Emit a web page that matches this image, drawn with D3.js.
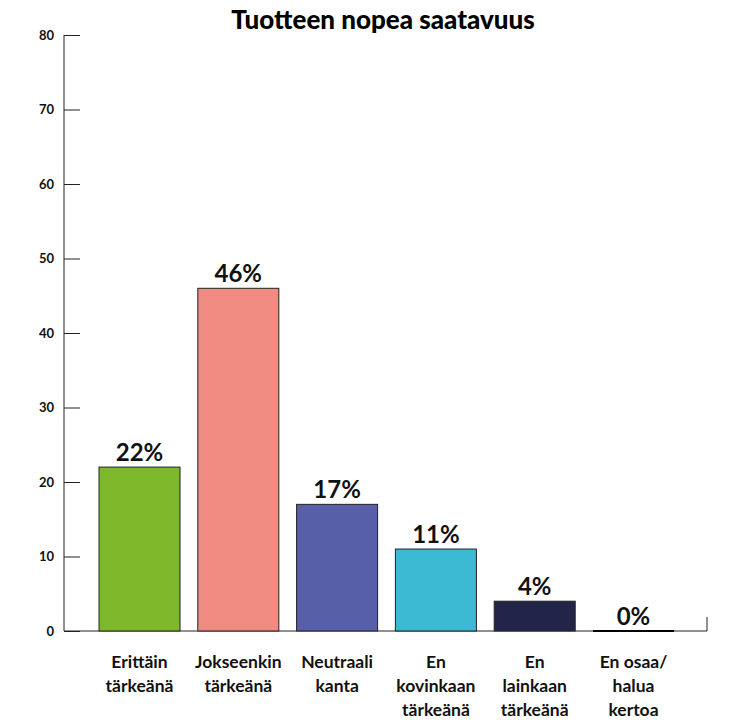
<!DOCTYPE html>
<html><head><meta charset="utf-8">
<script src="https://cdn.jsdelivr.net/npm/d3@7"></script>
<style>body{margin:0;background:#fff;} svg{display:block;}</style>
</head><body>
<script>
const categories = [["Erittäin","tärkeänä"],["Jokseenkin","tärkeänä"],["Neutraali","kanta"],["En","kovinkaan","tärkeänä"],["En","lainkaan","tärkeänä"],["En osaa/","halua","kertoa"]];
const values = [22, 46, 17, 11, 4, 0];
const colors = ["#7cb82a","#f08b82","#575fa8","#3cbad3","#22244a","#22244a"];
const yTicks = [0,10,20,30,40,50,60,70,80];
const title = "Tuotteen nopea saatavuus";

const W=734,H=727;
const svg=d3.select("body").append("svg").attr("width",W).attr("height",H);
const font="Lato, 'Open Sans', sans-serif";
const y=d3.scaleLinear().domain([0,80]).range([631,35]);
const x=d3.scaleBand().domain(d3.range(values.length)).range([99,674]).paddingInner(0.18).paddingOuter(0);

svg.append("text").attr("x",383).attr("y",29).attr("text-anchor","middle")
  .attr("font-family",font).attr("font-weight",900).attr("font-size",26).text(title);

// y axis
const ax=svg.append("g").attr("transform","translate(64,0)")
  .call(d3.axisRight(y).tickValues(yTicks).tickSize(16).tickFormat(d3.format("d")));
ax.select(".domain").remove();
ax.selectAll("line").attr("stroke","#222");
ax.selectAll("text").attr("x",-10).attr("text-anchor","end").attr("font-family",font)
  .attr("font-weight",700).attr("font-size",13).attr("fill","#111");
svg.append("line").attr("x1",64).attr("x2",64).attr("y1",35).attr("y2",631).attr("stroke","#222");
// baseline
svg.append("line").attr("x1",64).attr("x2",707).attr("y1",631).attr("y2",631).attr("stroke","#222");
svg.append("line").attr("x1",707).attr("x2",707).attr("y1",617).attr("y2",631).attr("stroke","#222");

// bars
svg.selectAll("rect.bar").data(values).join("rect").attr("class","bar")
  .attr("x",(d,i)=>x(i)).attr("width",x.bandwidth())
  .attr("y",d=>y(d)).attr("height",d=>y(0)-y(d))
  .attr("fill",(d,i)=>colors[i]).attr("stroke","#222").attr("stroke-width",1);
// zero bar line
svg.selectAll("line.zero").data(values.map((v,i)=>[v,i]).filter(d=>d[0]===0)).join("line")
  .attr("x1",d=>x(d[1])).attr("x2",d=>x(d[1])+x.bandwidth()).attr("y1",y(0)).attr("y2",y(0))
  .attr("stroke","#000").attr("stroke-width",2);

// value labels
svg.selectAll("text.val").data(values).join("text").attr("class","val")
  .attr("x",(d,i)=>x(i)+x.bandwidth()/2).attr("y",d=>y(d)-6)
  .attr("text-anchor","middle").attr("font-family",font).attr("font-weight",700)
  .attr("font-size",24).attr("fill","#111").text(d=>d+"%");

// category labels
const cg=svg.selectAll("text.cat").data(categories).join("text").attr("class","cat")
  .attr("x",(d,i)=>x(i)+x.bandwidth()/2).attr("y",668)
  .attr("text-anchor","middle").attr("font-family",font).attr("font-weight",700)
  .attr("font-size",17.5).attr("fill","#111");
cg.selectAll("tspan").data(d=>d).join("tspan")
  .attr("x",function(){return this.parentNode.getAttribute("x");})
  .attr("dy",(d,i)=>i===0?0:24).text(d=>d);
</script>
</body></html>
